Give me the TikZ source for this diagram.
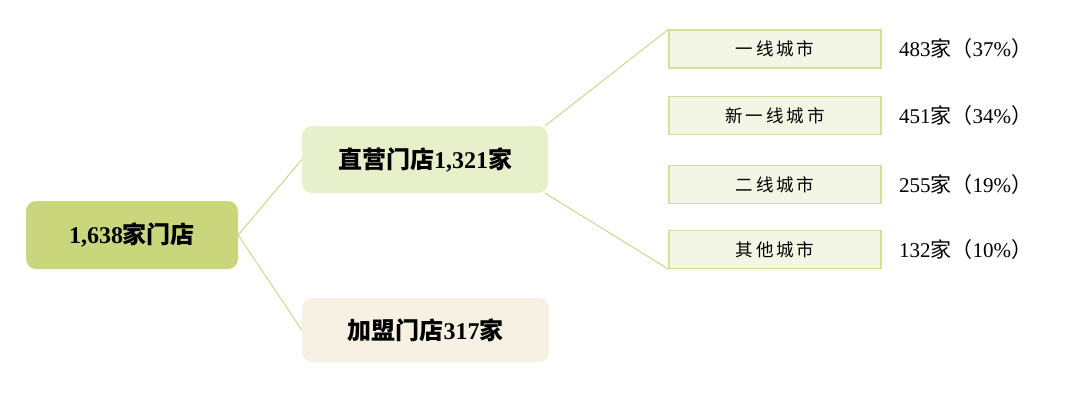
\documentclass[tikz,border=0pt]{standalone}
\usepackage{fontspec}
\setmainfont{Liberation Serif}
\newfontfamily\cjk{Noto Sans CJK SC}
\usetikzlibrary{backgrounds}
\definecolor{rootfill}{HTML}{C9D67B}
\definecolor{zyfill}{HTML}{E8EFCB}
\definecolor{jmfill}{HTML}{F7F1E4}
\definecolor{cityfill}{HTML}{F3F6E4}
\definecolor{cityline}{HTML}{D3E09E}
\definecolor{linkcol}{HTML}{C9D88E}
\newcommand{\zh}[1]{{\cjk #1}}
\tikzset{
  bigbox/.style={rectangle, rounded corners=10pt, inner sep=0pt, font=\fontsize{24}{28}\selectfont\bfseries},
  citybox/.style={rectangle, draw=cityline, line width=1.3pt, fill=cityfill, minimum width=212pt, minimum height=38pt, inner sep=0pt, font=\fontsize{17.5}{20}\selectfont},
  lab/.style={anchor=west, inner sep=0pt, font=\fontsize{21}{24}\selectfont},
  link/.style={draw=linkcol, line width=1pt}
}
\begin{document}
\begin{tikzpicture}[x=1pt,y=1pt]
\useasboundingbox (0,0) rectangle (1080,-402);
\node[bigbox, fill=rootfill, minimum width=212pt, minimum height=68pt] (root) at (132,-235) {1,638\zh{家门店}};
\node[bigbox, fill=zyfill, minimum width=246pt, minimum height=67pt] (zy) at (425,-159.5) {\zh{直营门店}1,321\zh{家}};
\node[bigbox, fill=jmfill, minimum width=247pt, minimum height=64pt] (jm) at (425.5,-330) {\zh{加盟门店}317\zh{家}};
\node[citybox] (c1) at (775,-49) {\zh{一\,线\,城\,市}};
\node[citybox] (c2) at (775,-115.5) {\zh{新\,一\,线\,城\,市}};
\node[citybox] (c3) at (775,-184.5) {\zh{二\,线\,城\,市}};
\node[citybox] (c4) at (775,-249.5) {\zh{其\,他\,城\,市}};
\node[lab] (l1) at (899,-49) {483\zh{家（}37\%\zh{）}};
\node[lab] (l2) at (899,-115.5) {451\zh{家（}34\%\zh{）}};
\node[lab] (l3) at (899,-184.5) {255\zh{家（}19\%\zh{）}};
\node[lab] (l4) at (899,-249.5) {132\zh{家（}10\%\zh{）}};
\begin{scope}[on background layer]
\draw[link] (root.east) -- (zy.west);
\draw[link] (root.east) -- (jm.west);
\draw[link] ([xshift=-3pt]zy.north east) -- (c1.north west);
\draw[link] ([xshift=-3pt]zy.south east) -- (c4.south west);
\end{scope}
\end{tikzpicture}
\end{document}
